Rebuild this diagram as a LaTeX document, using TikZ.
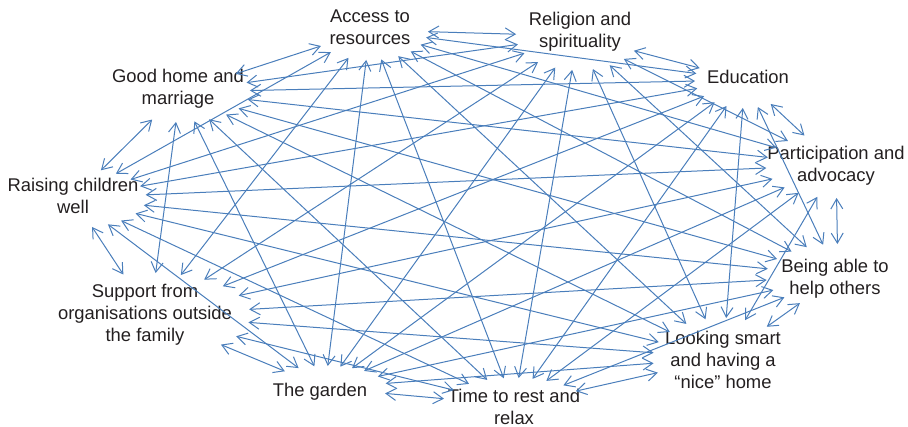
\documentclass[tikz,border=0pt]{standalone}
\usepackage{fontspec}
\setmainfont{Liberation Sans}
\usetikzlibrary{arrows.meta,shapes.geometric}
\definecolor{arrowblue}{RGB}{74,126,187}
\definecolor{txt}{RGB}{35,31,32}
\begin{document}
\begin{tikzpicture}[x=1pt,y=-1pt,
  lbl/.style={align=center, inner sep=0pt, text=txt, font=\fontsize{18.4}{22}\selectfont},
  hub/.style={ellipse, inner sep=0pt, outer sep=0pt},
  link/.style={draw=arrowblue, line width=1pt,
    {Straight Barb[length=10pt,width=12pt]}-{Straight Barb[length=10pt,width=12pt]}}
]
\useasboundingbox (0,0) rectangle (908,427);
% labels
\node[lbl] (tA) at (370,27) {Access to\\resources};
\node[lbl] (tR) at (580,32) {Religion and\\spirituality};
\node[lbl] (tE) at (748,77) {Education};
\node[lbl] (tP) at (836,166) {Participation and\\advocacy};
\node[lbl] (tH) at (835,279) {Being able to\\help others};
\node[lbl] (tL) at (723,360) {Looking smart\\and having a\\“nice” home};
\node[lbl] (tT) at (514,407) {Time to rest and\\relax};
\node[lbl] (tG) at (320,392) {The garden};
\node[lbl] (tS) at (145,315) {Support from\\organisations outside\\the family};
\node[lbl] (tC) at (73,196) {Raising children\\well};
\node[lbl] (tM) at (178,89) {Good home and\\marriage};
% connection hubs (invisible)
\node[hub, minimum width=116pt, minimum height=60pt] (A) at (370,30) {};
\node[hub, minimum width=124pt, minimum height=68pt] (R) at (578,36) {};
\node[hub, minimum width=100pt, minimum height=56pt] (E) at (745,80) {};
\node[hub, minimum width=140pt, minimum height=66pt] (P) at (836,165) {};
\node[hub, minimum width=144pt, minimum height=64pt] (H) at (838,276) {};
\node[hub, minimum width=140pt, minimum height=80pt] (L) at (723,358) {};
\node[hub, minimum width=144pt, minimum height=54pt] (T) at (514,405) {};
\node[hub, minimum width=124pt, minimum height=44pt] (G) at (325,388) {};
\node[hub, minimum width=200pt, minimum height=84pt] (S) at (150,315) {};
\node[hub, minimum width=146pt, minimum height=60pt] (C) at (73,198) {};
\node[hub, minimum width=140pt, minimum height=60pt] (M) at (180,92) {};
% every pair connected
\foreach \x [count=\i] in {A,R,E,P,H,L,T,G,S,C,M}{
  \foreach \y [count=\j] in {A,R,E,P,H,L,T,G,S,C,M}{
    \ifnum\i<\j \draw[link] (\x) -- (\y); \fi
  }
}
\end{tikzpicture}
\end{document}
